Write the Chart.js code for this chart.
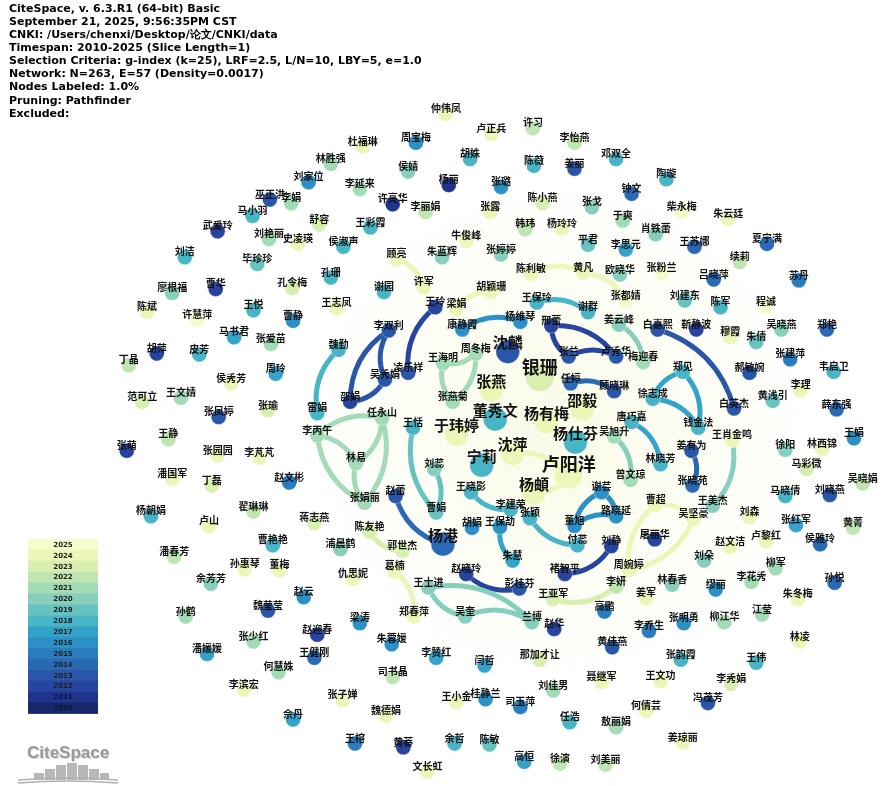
<!DOCTYPE html>
<html>
<head>
<meta charset="utf-8">
<script src="https://cdn.jsdelivr.net/npm/chart.js@4.4.1/dist/chart.umd.min.js"></script>
<style>
  html, body { margin: 0; padding: 0; background: #fff; }
  #wrap { width: 885px; height: 786px; }
</style>
</head>
<body>
<div id="wrap"><canvas id="net" width="885" height="786"></canvas></div>
<script>
// 作者合作网络（CiteSpace 导出）
const headerLines = [
    "CiteSpace, v. 6.3.R1 (64-bit) Basic",
    "September 21, 2025, 9:56:35PM CST",
    "CNKI: /Users/chenxi/Desktop/论文/CNKI/data",
    "Timespan: 2010-2025 (Slice Length=1)",
    "Selection Criteria: g-index (k=25), LRF=2.5, L/N=10, LBY=5, e=1.0",
    "Network: N=263, E=57 (Density=0.0017)",
    "Nodes Labeled: 1.0%",
    "Pruning: Pathfinder",
    "Excluded:"
];

const legendYears = [2025, 2024, 2023, 2022, 2021, 2020, 2019, 2018, 2017, 2016, 2015, 2014, 2013, 2012, 2011, 2010];

// 节点：作者名、布局坐标、首次出现年份
const authors = [
    "杜福琳","林胜强","刘家位","李延来","巫正洪","李娟","马小羽","舒容","王彩霞","武爱玲","刘艳丽","史凌瑛","侯淑声","刘洁","毕珍珍",
    "仲伟凤","卢正兵","许习","周宝梅","李怡燕","邓双全","胡姝","陈薇","姜丽","侯婧","杨丽","张璐","许亮华","李丽娟","张露","陈小燕","张戈","韩玮","杨玲玲","牛俊峰","平君","顾亮","朱蓝辉","张婷婷",
    "陶璇","钟文","柴永梅","朱云廷","于爽","肖铁蕾","王苏娜","夏宁满","李思元","续莉",
    "孔珊","孔令梅","廖根福","曹华","陈斌","王悦","王志凤","许慧萍","曹静","马书君","张爱苗","魏勤","胡萍","皮芳","丁晶","周玲","侯秀芳","范可立","王文婧","邵娟","张凤婷","张瑜","雷娟",
    "许军","谢园","胡颖珊","陈利敏","黄凡","欧晓华","王玲","梁娟","王保玲","谢群","李双利","康静霞","杨维琴","邢蕾","周冬梅","沈麟","王海明","凌乐祥","吴秀娟","张兰","卢秀华","银珊","任婷","顾晓琳","张燕","张燕菊","邵毅","董秀文","杨有梅","任永山","王恬","于玮婷",
    "张粉兰","吕晓萍","苏丹","张都婧","刘建东","陈军","程诚","姜云峰","白嘉熙","靳静波","穆霞","吴晓燕","郑艳","朱倩","梅迎春","张建萍","郑见","郝敏婉","韦启卫","李理","徐志成","黄浅引","白英杰","薛东强","唐巧嘉","钱金法",
    "李丙午","王静","张萌","张园园","李芃芃","林易","潘国军","丁磊","赵文彬","张娟丽","杨朝娟","翟琳琳","卢山","蒋志燕","陈友艳","曹艳艳","浦晨鹤","潘春芳","孙惠琴","董梅","仇思妮","余芳芳",
    "杨仕芬","吴旭升","宁莉","沈萍","卢阳洋","刘蕊","杨頔","王晓影","赵蕾","谢芸","李建荣","路晓延","张颖","胡娟","王保劼","曹娟","董旭","杨港","郭世杰","付蕊","刘静","朱慧","葛楠","赵晓玲","褚智平","王士进","彭桂芬","李妍",
    "王肖金鸣","王娟","徐阳","林西锦","姜有为","林晓芳","马彩微","曾文琼","吴晓娟","张晓苑","马晓倩","刘晓燕","曹超","王美杰","吴坚豪","刘森","张红军","黄菁","屠丽华","卢黎红","侯雅玲","赵文洁","刘朵","周婉婷","柳军","林春香","李花秀","孙悦","缪丽",
    "孙鹤","魏莹莹","赵云","梁涛","赵迎春","张少红","潘媛媛","王健刚","何慧姝","李滨宏","张子婵","佘丹","王榕",
    "王亚军","郑春萍","吴奎","兰博","高鹏","赵华","朱蓉媛","李赞红","闫哲","那加才让","黄佳燕","司书晶","聂继军","刘佳男","王小金","桂静兰","司玉萍","魏德娟","任浩","敖丽娟","余哲","陈敏","黄蒂","高恒","徐演","刘美丽","文长虹",
    "姜军","朱冬梅","李乔生","张明勇","柳江华","江莹","林凌","张韵霞","王伟","王文功","李秀娟","冯茂芳","何倩芸","姜琼丽"
];
const posX = [
    360,327,304,357,264,286,246,315,368,210,263,293,340,176,251,
    446,493,536,415,579,622,471,537,579,407,449,503,391,425,492,546,597,528,566,467,593,395,442,503,
    674,638,690,738,629,663,703,778,632,750,
    327,287,163,208,137,247,333,189,288,227,265,335,147,191,118,270,224,132,172,347,211,262,313,
    423,382,493,534,588,626,435,457,540,593,387,463,523,555,477,510,443,407,383,573,622,543,575,620,493,453,587,497,550,380,412,457,
    669,723,811,632,693,730,777,625,665,705,740,793,840,767,650,802,691,760,847,813,660,784,744,850,638,707,
    313,159,116,210,253,353,163,204,284,362,141,247,201,310,367,267,337,165,238,274,350,203,
    580,620,483,515,573,434,537,472,394,607,513,622,533,473,502,436,579,443,401,582,617,515,393,467,569,428,522,622,
    742,868,797,835,700,668,819,637,877,701,797,843,663,722,702,760,808,867,662,777,833,740,713,635,787,680,762,848,725,
    177,262,299,357,313,247,199,310,273,237,339,288,352,
    557,413,466,535,610,558,390,436,486,543,618,391,607,557,457,487,523,384,574,622,455,491,402,527,564,611,427,
    653,810,656,692,734,773,812,689,767,668,741,717,653,691
];
const posY = [
    137,155,174,181,192,196,209,218,221,225,233,238,241,252,259,
    103,124,118,133,133,150,150,157,160,163,177,179,197,205,205,196,200,223,222,235,239,254,252,249,
    171,186,205,212,214,228,241,238,244,257,
    273,284,289,285,309,307,305,317,318,335,342,348,352,353,364,373,383,402,398,402,418,411,414,
    283,288,288,269,268,270,304,306,299,309,328,327,319,323,352,350,362,372,379,355,355,377,383,391,390,402,410,420,423,419,429,436,
    268,275,276,297,297,304,303,322,327,327,335,327,327,340,361,358,371,372,371,390,399,401,409,410,423,429,
    437,441,453,458,460,466,482,489,486,507,521,516,531,528,537,551,555,563,576,577,586,591,
    444,438,468,456,478,472,497,496,500,496,514,521,523,533,532,517,531,550,557,551,552,567,578,581,581,595,596,594,
    442,440,452,451,453,467,472,483,487,489,500,499,509,510,524,522,530,533,545,547,550,553,567,577,575,592,589,590,597,
    625,619,605,632,644,651,664,668,683,701,712,732,757,
    607,625,625,631,620,638,654,668,676,670,657,688,693,702,714,711,719,728,735,740,757,758,761,776,778,779,786,
    606,607,640,632,631,623,651,670,673,692,695,715,723,756
];
const firstYear = [
    2024,2021,2016,2021,2013,2021,2018,2023,2018,2012,2021,2024,2018,2018,2019,
    2024,2024,2022,2016,2022,2018,2018,2018,2013,2020,2011,2016,2011,2022,2024,2023,2020,2022,2024,2024,2019,2024,2020,2020,
    2018,2014,2025,2024,2021,2020,2014,2014,2017,2022,
    2018,2023,2020,2012,2024,2018,2024,2025,2016,2017,2021,2018,2012,2018,2022,2017,2024,2023,2021,2012,2013,2023,2018,
    2024,2018,2024,2024,2024,2020,2012,2024,2018,2018,2013,2016,2016,2012,2021,2013,2021,2013,2013,2013,2013,2023,2014,2013,2024,2021,2024,2018,2024,2021,2018,2024,
    2025,2014,2015,2025,2019,2018,2025,2020,2013,2012,2024,2020,2014,2019,2021,2015,2018,2013,2018,2024,2018,2019,2013,2014,2018,2018,
    2021,2022,2012,2024,2024,2021,2024,2023,2015,2021,2018,2022,2024,2023,2023,2018,2020,2022,2024,2024,2024,2020,
    2018,2021,2018,2024,2024,2020,2024,2018,2013,2016,2018,2016,2018,2016,2016,2019,2016,2014,2023,2018,2012,2017,2024,2012,2012,2020,2013,2022,
    2024,2016,2020,2024,2013,2018,2023,2021,2022,2014,2018,2013,2024,2020,2024,2024,2017,2022,2012,2024,2014,2024,2020,2024,2021,2020,2021,2014,2016,
    2021,2013,2016,2016,2012,2021,2017,2014,2021,2024,2024,2017,2015,
    2023,2024,2020,2020,2015,2012,2016,2017,2017,2023,2013,2022,2024,2021,2024,2016,2015,2024,2018,2021,2018,2019,2012,2017,2022,2022,2024,
    2024,2024,2015,2016,2021,2021,2024,2018,2018,2024,2023,2013,2024,2024
];
// 发文量较高的作者（其余为 1）
const paperCounts = { "银珊": 4, "卢阳洋": 4, "沈麟": 3, "张燕": 3, "邵毅": 3, "董秀文": 3, "杨有梅": 3, "于玮婷": 3,
    "杨仕芬": 3, "宁莉": 3, "沈萍": 3, "杨頔": 3, "杨港": 3 };

// 合作连线（起点、终点、年份）
const linkFrom = ["顾亮","梁娟","陈利敏","黄凡","王保玲","康静霞","凌乐祥","吴秀娟","邵娟","吴秀娟","雷娟",
    "周冬梅","周冬梅","张燕菊","张兰","邢蕾","张兰","任婷","姜云峰","白嘉熙","徐志成","郑见","徐志成","唐巧嘉",
    "吴旭升","姜有为","王肖金鸣","曹超","周婉婷","吴坚豪","董旭","谢芸","董旭","刘静","李建荣","付蕊","朱慧",
    "杨港","曹娟","刘蕊","沈萍","卢阳洋","李丙午","李丙午","张娟丽","任永山","任永山","张娟丽","郭世杰","彭桂芬",
    "吴奎","王士进","吴奎","葛楠","李妍"];
const linkTo = ["许军","胡颖珊","黄凡","张都婧","谢群","杨维琴","王玲","李双利","李双利","邵娟","魏勤",
    "王海明","张燕菊","王海明","邢蕾","卢秀华","卢秀华","顾晓琳","梅迎春","白英杰","郑见","钱金法","钱金法","林晓芳",
    "曾文琼","张晓苑","王美杰","吴坚豪","曹超","周婉婷","谢芸","路晓延","路晓延","褚智平","王晓影","张颖","王保劼",
    "赵蕾","王恬","曹娟","卢阳洋","杨頔","任永山","林易","李丙午","林易","张娟丽","林易","陈友艳","赵晓玲",
    "王士进","兰博","兰博","郑春萍","王亚军"];
const linkYear = [2024,2024,2024,2024,2018,2016,2012,2013,2013,2013,2018,
    2021,2021,2021,2012,2012,2012,2014,2020,2013,2017,2017,2017,2017,
    2020,2014,2020,2024,2024,2024,2016,2016,2016,2012,2018,2018,2017,
    2014,2019,2019,2024,2024,2021,2021,2021,2021,2021,2021,2023,2012,
    2020,2020,2020,2024,2023];

// 年份配色（YlGnBu）
const yearColors = {
    2010: "#16286a", 2011: "#21348c", 2012: "#27449e", 2013: "#2a56aa", 2014: "#2a69b6", 2015: "#297dbf",
    2016: "#2a90c6", 2017: "#34a3ca", 2018: "#48b5c6", 2019: "#66c3c0", 2020: "#86cfbc", 2021: "#a3dbb7",
    2022: "#bfe5b2", 2023: "#d8efb0", 2024: "#ebf6b8", 2025: "#f6fbcb"
};

function countOf(name) { return paperCounts[name] || 1; }
function radiusOf(name) { return 7.5 + (countOf(name) - 1) * 2.2; }

// 背景淡黄色光晕 + 连线（二次曲线，弯向行进方向左侧）
const linkPlugin = {
    id: "links",
    beforeDatasetsDraw(chart) {
        const ctx = chart.ctx;
        const xs = chart.scales.x, ys = chart.scales.y;
        ctx.save();
        const g = ctx.createRadialGradient(560, 430, 20, 560, 430, 260);
        g.addColorStop(0, "rgba(246,248,215,0.55)");
        g.addColorStop(1, "rgba(246,248,215,0)");
        ctx.fillStyle = g;
        ctx.fillRect(280, 160, 560, 560);

        ctx.lineCap = "round";
        ctx.lineWidth = 5;
        linkFrom.forEach((from, i) => {
            const a = authors.indexOf(from), b = authors.indexOf(linkTo[i]);
            if (a < 0 || b < 0) return;
            const x1 = xs.getPixelForValue(posX[a]), y1 = ys.getPixelForValue(posY[a]);
            const x2 = xs.getPixelForValue(posX[b]), y2 = ys.getPixelForValue(posY[b]);
            const dx = x2 - x1, dy = y2 - y1;
            const cx = (x1 + x2) / 2 + dy * 0.27, cy = (y1 + y2) / 2 - dx * 0.27;
            ctx.strokeStyle = yearColors[linkYear[i]];
            ctx.beginPath();
            ctx.moveTo(x1, y1);
            ctx.quadraticCurveTo(cx, cy, x2, y2);
            ctx.stroke();
        });
        ctx.restore();
    }
};

// 标签、图例、页眉、标志
const decorPlugin = {
    id: "decor",
    afterDatasetsDraw(chart) {
        const ctx = chart.ctx;
        const xs = chart.scales.x, ys = chart.scales.y;
        ctx.save();
        ctx.textAlign = "center";
        ctx.textBaseline = "middle";
        ctx.fillStyle = "#111";
        authors.forEach((name, i) => {
            const c = countOf(name);
            const size = c === 1 ? 10 : (c === 3 ? 15 : 18);
            ctx.font = "bold " + size + "px 'Noto Sans CJK SC'";
            const x = xs.getPixelForValue(posX[i]);
            const y = ys.getPixelForValue(posY[i]) - radiusOf(name) * 0.75;
            ctx.fillText(name, x, y);
        });
        ctx.restore();
    },
    afterDraw(chart) {
        const ctx = chart.ctx;
        ctx.save();
        // 页眉
        ctx.fillStyle = "#000";
        ctx.textAlign = "left";
        ctx.textBaseline = "middle";
        ctx.font = "bold 11px 'DejaVu Sans'";
        headerLines.forEach((t, i) => ctx.fillText(t, 9, 9 + i * 13.1));

        // 年份图例
        const lx = 28, lw = 70, top = 539, rh = 10.9;
        legendYears.forEach((yr, i) => {
            ctx.fillStyle = yearColors[yr];
            ctx.fillRect(lx, top + i * rh, lw, rh + 0.5);
            ctx.fillStyle = yr <= 2011 ? "#0b1640" : "#222";
            ctx.font = "bold 7px 'DejaVu Sans'";
            ctx.textAlign = "center";
            ctx.fillText(String(yr), lx + lw / 2, top + i * rh + rh / 2 + 0.5);
        });

        // CiteSpace 标志
        ctx.textAlign = "left";
        ctx.font = "bold 17px 'Liberation Sans'";
        ctx.fillStyle = "#d0d0d0";
        ctx.fillText("CiteSpace", 28, 754);
        ctx.fillStyle = "#9a9a9a";
        ctx.fillText("CiteSpace", 27, 753);
        ctx.fillStyle = "#b8b8b8";
        const bars = [[34, 773, 10], [45, 769, 10], [56, 765, 10], [67, 763, 10], [78, 765, 10], [89, 769, 10], [100, 773, 9]];
        bars.forEach(b => ctx.fillRect(b[0], b[1], b[2], 780 - b[1]));
        ctx.strokeStyle = "#b0b0b0";
        ctx.lineWidth = 1.5;
        [780, 783].forEach(y0 => {
            ctx.beginPath();
            ctx.moveTo(18, y0);
            ctx.quadraticCurveTo(68, y0 - 4, 118, y0);
            ctx.stroke();
        });
        ctx.restore();
    }
};

const nodeData = authors.map((name, i) => ({ x: posX[i], y: posY[i] }));

new Chart(document.getElementById("net"), {
    type: "scatter",
    data: {
        datasets: [{
            label: "authors",
            data: nodeData,
            pointRadius: authors.map(radiusOf),
            pointBackgroundColor: firstYear.map(y => yearColors[y]),
            pointBorderColor: "rgba(255,255,255,0.6)",
            pointBorderWidth: 0.5,
            clip: false
        }]
    },
    options: {
        responsive: false,
        animation: false,
        devicePixelRatio: 1,
        layout: { padding: 0 },
        plugins: { legend: { display: false }, tooltip: { enabled: false } },
        scales: {
            x: { type: "linear", min: 0, max: 885, display: false },
            y: { type: "linear", min: 0, max: 786, reverse: true, display: false }
        }
    },
    plugins: [linkPlugin, decorPlugin]
});
</script>
</body>
</html>
